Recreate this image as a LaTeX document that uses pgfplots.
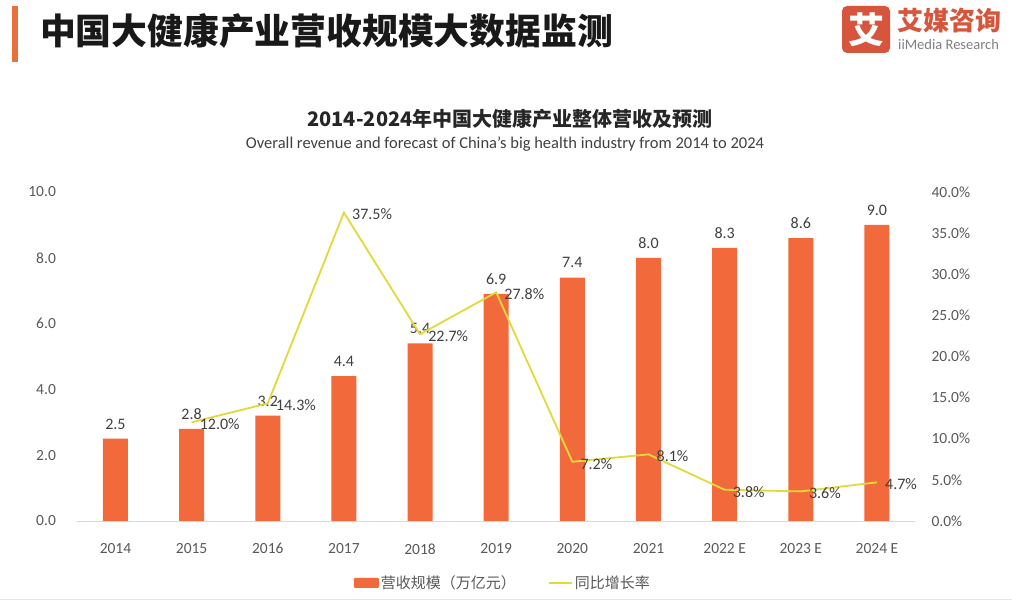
\documentclass[border=0pt]{standalone}
\usepackage{fontspec}
\setmainfont{Carlito}
\newfontfamily\cjk{Noto Sans CJK SC}
\usepackage{pgfplots}
\pgfplotsset{compat=1.18}

\definecolor{barorange}{RGB}{242,105,60}
\definecolor{lineyellow}{RGB}{226,218,58}
\definecolor{logored}{RGB}{214,85,60}
\definecolor{headorange}{RGB}{232,112,63}
\definecolor{tickgrey}{RGB}{89,89,89}
\definecolor{labgrey}{RGB}{64,64,64}
\definecolor{basegrey}{RGB}{217,217,217}

\begin{document}
\begin{tikzpicture}
\path[fill=white, use as bounding box] (-77.4pt,-83pt) rectangle (934.6pt,521pt);

% header, in picture pixels (y down)
\begin{scope}[x=1pt, y=-1pt, shift={(-77.4pt,521pt)}]
  \fill[headorange] (12,6) rectangle (18,62);
  \node[anchor=west, inner sep=0, text=black!90,
        font=\cjk\bfseries\fontsize{35.8}{36}\selectfont] at (40,31)
        {中国大健康产业营收规模大数据监测};
  \fill[logored, rounded corners=5pt] (842,6) rectangle (890,53);
  \node[text=white, font=\cjk\bfseries\fontsize{36}{36}\selectfont] at (866,29.5) {艾};
  \node[anchor=west, inner sep=0, text=logored,
        font=\cjk\bfseries\fontsize{26}{26}\selectfont] at (897,21) {艾媒咨询};
  \node[anchor=west, inner sep=0, text=black!50,
        font=\fontsize{14.5}{14.5}\selectfont] at (898,45) {iiMedia Research};
  \node[text=black!85, font=\cjk\bfseries\fontsize{20}{20}\selectfont] at (510,119)
        {2014-2024年中国大健康产业整体营收及预测};
  \node[text=black!75, font=\fontsize{16.5}{16.5}\selectfont] at (505,144)
        {Overall revenue and forecast of China’s big health industry from 2014 to 2024};
  \draw[black!10, line width=1pt] (0,600) -- (1012,600);
\end{scope}

\begin{axis}[
  scale only axis, width=837.6pt, height=329pt,
  xmin=-0.5, xmax=10.5, ymin=0, ymax=10,
  axis x line*=bottom, axis y line*=left,
  x axis line style={draw=basegrey, line width=0.8pt, -},
  y axis line style={draw=none},
  major tick length=0,
  xtick={0,...,10},
  xticklabels={2014,2015,2016,2017,2018,2019,2020,2021,2022 E,2023 E,2024 E},
  ytick={0,2,...,10},
  yticklabel={\pgfmathprintnumber[fixed,fixed zerofill,precision=1]{\tick}},
  /pgf/number format/assume math mode=true,
  tick label style={font=\fontsize{15.5}{15.5}\selectfont, text=tickgrey},
  yticklabel style={xshift=-18pt},
  xticklabel style={yshift=-19pt},
  legend style={at={(0.508,-0.188)}, anchor=center, draw=none, fill=none,
    legend columns=2, font=\cjk\fontsize{15}{15}\selectfont, text=tickgrey,
    /tikz/every even column/.append style={column sep=30pt}},
]
\addplot[ybar, bar width=25pt, fill=barorange, draw=none,
  legend image code/.code={\fill[barorange, rounded corners=1pt] (0pt,-5pt) rectangle (25pt,5pt);},
  nodes near coords,
  nodes near coords style={font=\fontsize{16}{16}\selectfont, text=labgrey, yshift=6pt,
    /pgf/number format/.cd, fixed, fixed zerofill, precision=1}]
  coordinates {(0,2.5) (1,2.8) (2,3.2) (3,4.4) (4,5.4) (5,6.9) (6,7.4) (7,8.0) (8,8.3) (9,8.6) (10,9.0)};
\addlegendentry{营收规模（万亿元）}
\addlegendimage{legend image code/.code={\draw[lineyellow, line width=1.8pt] (0pt,0pt) -- (23pt,0pt);}}
\addlegendentry{同比增长率}
\end{axis}

\begin{axis}[
  scale only axis, width=837.6pt, height=329pt,
  xmin=-0.5, xmax=10.5, ymin=0, ymax=40,
  hide x axis,
  axis y line*=right,
  y axis line style={draw=none},
  major tick length=0,
  ytick={0,5,...,40},
  yticklabel={\pgfmathprintnumber[fixed,fixed zerofill,precision=1]{\tick}\%},
  /pgf/number format/assume math mode=true,
  tick label style={font=\fontsize{15.5}{15.5}\selectfont, text=tickgrey},
  yticklabel style={xshift=13pt},
]
\addplot[lineyellow, line width=1.8pt, mark=none,
  nodes near coords={\pgfmathprintnumber[fixed,fixed zerofill,precision=1]{\pgfplotspointmeta}\%},
  every node near coord/.append style={anchor=west, xshift=4pt, yshift=-2pt,
    font=\fontsize{16}{16}\selectfont, text=labgrey}]
  coordinates {(1,12.0) (2,14.3) (3,37.5) (4,22.7) (5,27.8) (6,7.2) (7,8.1) (8,3.8) (9,3.6) (10,4.7)};
\end{axis}
\end{tikzpicture}
\end{document}
